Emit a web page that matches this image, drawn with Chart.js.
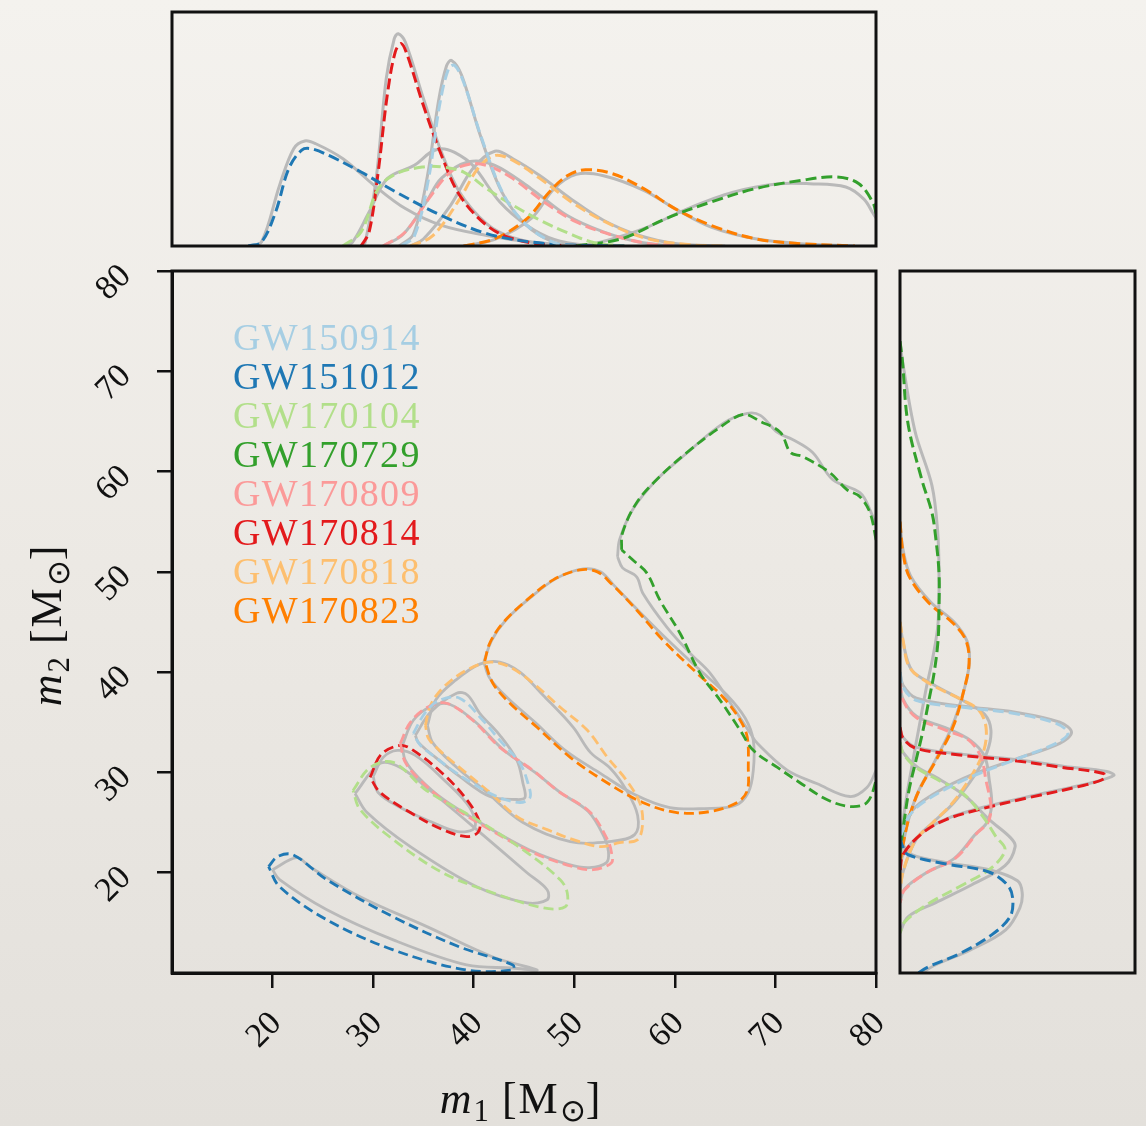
<!DOCTYPE html>
<html><head><meta charset="utf-8">
<script src="https://cdn.jsdelivr.net/npm/chart.js@4.4.1/dist/chart.umd.min.js"></script>
<style>
html,body{margin:0;padding:0;}
body{width:1146px;height:1126px;position:relative;overflow:hidden;
 background:linear-gradient(180deg,#f4f2ee 0%,#ece9e4 50%,#e3e0db 100%);
 font-family:'Liberation Serif',serif;color:#111;}
canvas{position:absolute;left:0;top:0;}
#legend{position:absolute;left:233px;top:318px;font-size:38px;line-height:39px;letter-spacing:1.3px;white-space:nowrap;}
.axt{position:absolute;font-size:44px;line-height:48px;letter-spacing:2px;text-align:center;white-space:nowrap;}
.axt sub{font-size:0.7em;vertical-align:-0.25em;line-height:0;letter-spacing:0;}
.axt i{font-style:italic;}
</style></head>
<body>
<canvas id="top" width="1146" height="1126"></canvas>
<canvas id="side" width="1146" height="1126"></canvas>
<canvas id="main" width="1146" height="1126"></canvas>
<div id="legend"></div>
<div class="axt" id="xt" style="left:321px;top:1075px;width:400px;height:48px;"><i>m</i><sub>1</sub> [M<sub>⊙</sub>]</div>
<div class="axt" id="yt" style="left:-103px;top:601px;width:300px;height:48px;transform:rotate(-90deg);"><i>m</i><sub>2</sub> [M<sub>⊙</sub>]</div>
<script>
// ---------- names, colours, ticks ----------
const eventNames = ['GW150914','GW151012','GW170104','GW170729','GW170809','GW170814','GW170818','GW170823'];
const seriesColors = ['#a6cee3','#1f78b4','#b2df8a','#33a02c','#fb9a99','#e31a1c','#fdbf6f','#ff7f00'];
const refColor = '#b9b9b9';
const m1TickValues = [20,30,40,50,60,70,80];
const m1TickLabels = ['20','30','40','50','60','70','80'];
const m2TickValues = [20,30,40,50,60,70,80];
const m2TickLabels = ['20','30','40','50','60','70','80'];

// ---------- 90% contours [m1, m2] (dashed) and reference (grey) ----------
const gw150914Contour = [[34.0,33.9],[35.2,36.0],[36.6,37.2],[38.6,37.4],[40.9,35.2],[42.6,33.2],[44.6,30.9],[45.4,28.9],[45.6,27.5],[44.6,27.0],[42.3,27.6],[39.9,28.9],[37.9,30.2],[36.6,31.2],[34.7,32.7],[34.0,33.9]];
const gw150914ContourAlt = [[34.2,33.7],[35.7,36.0],[38.3,37.9],[39.4,37.7],[40.6,35.9],[42.6,33.7],[44.3,31.2],[44.9,28.9],[45.1,27.5],[44.3,27.3],[41.6,27.6],[38.6,29.6],[36.2,31.5],[34.5,33.0],[34.2,33.7]];
const gw151012Contour = [[19.6,20.6],[20.5,21.6],[22.0,21.8],[25.4,19.3],[32.0,15.6],[38.6,12.6],[43.9,10.8],[43.9,10.3],[39.3,10.3],[32.0,12.3],[25.4,15.3],[20.7,18.6],[19.6,20.6]];
const gw151012ContourAlt = [[20.0,20.3],[22.4,21.5],[23.7,20.6],[28.7,17.6],[35.4,14.6],[41.9,11.6],[46.3,10.3],[43.9,10.5],[39.3,10.8],[32.0,13.3],[25.4,16.3],[20.7,19.3],[20.0,20.3]];
const gw170104Contour = [[28.0,28.2],[29.7,30.5],[32.0,31.0],[35.3,28.2],[40.3,25.3],[45.3,22.0],[48.6,19.3],[49.3,18.0],[49.1,16.6],[46.9,16.5],[41.9,18.0],[36.9,20.0],[32.0,23.3],[28.7,26.3],[28.0,28.2]];
const gw170104ContourAlt = [[28.2,27.9],[30.7,30.9],[32.7,30.5],[35.3,28.5],[40.3,24.3],[45.3,20.0],[47.3,18.3],[47.3,17.3],[45.3,17.0],[40.3,18.6],[33.7,22.6],[29.4,26.0],[28.2,27.9]];
const gw170729Contour = [[54.7,52.2],[54.8,53.9],[56.2,56.9],[58.5,59.5],[61.2,61.9],[64.2,64.2],[66.8,65.7],[68.5,65.0],[70.5,63.9],[71.5,61.9],[72.7,61.5],[75.4,59.9],[77.1,58.2],[78.4,57.5],[79.4,55.9],[80.0,53.2],[81.0,48.0],[81.5,40.0],[81.0,33.0],[80.0,29.2],[79.1,27.0],[77.4,26.6],[75.1,27.3],[72.4,29.0],[70.2,30.5],[67.8,32.2],[66.5,34.2],[64.5,37.2],[62.5,39.9],[60.5,43.9],[58.5,47.2],[57.2,49.9],[55.8,51.2],[54.7,52.2]];
const gw170729ContourAlt = [[54.3,51.5],[54.5,53.2],[55.8,56.2],[58.2,59.2],[60.8,61.5],[64.8,64.8],[67.2,65.8],[68.5,65.6],[70.2,63.9],[71.7,63.2],[73.7,61.9],[75.7,59.2],[78.4,57.9],[79.4,56.2],[80.4,53.2],[81.3,45.0],[81.3,37.0],[80.4,31.2],[80.0,30.2],[79.1,28.5],[77.4,27.6],[74.1,28.9],[71.2,30.2],[68.2,32.9],[67.5,33.9],[65.8,36.5],[63.5,39.9],[61.5,41.9],[59.2,44.5],[56.8,47.9],[56.2,49.5],[54.8,50.4],[54.3,51.5]];
const gw170809Contour = [[32.7,32.9],[33.7,35.0],[35.4,36.5],[37.3,36.9],[39.9,35.2],[42.6,32.5],[45.9,30.2],[48.3,28.2],[51.6,26.0],[53.3,23.3],[53.7,22.0],[53.7,21.0],[51.9,20.3],[49.9,20.6],[45.9,22.0],[41.6,24.3],[37.3,27.0],[34.7,29.2],[33.2,31.0],[32.7,32.9]];
const gw170809ContourAlt = [[32.9,32.7],[34.0,35.2],[35.8,36.6],[37.6,36.8],[40.2,35.0],[42.9,32.3],[46.1,30.0],[48.6,28.0],[51.4,26.1],[53.0,23.5],[53.4,22.1],[53.2,21.0],[51.5,20.5],[49.5,20.8],[45.5,22.3],[41.3,24.6],[37.0,27.3],[34.5,29.5],[33.2,31.2],[32.9,32.7]];
const gw170814Contour = [[29.7,29.5],[30.8,31.8],[32.7,32.7],[34.0,32.2],[36.9,29.9],[39.3,27.3],[40.6,25.0],[40.4,24.0],[39.3,23.6],[36.9,24.3],[33.7,26.0],[30.7,28.0],[29.7,29.5]];
const gw170814ContourAlt = [[30.0,29.6],[31.0,31.5],[32.4,32.2],[34.2,31.7],[37.1,29.2],[39.6,26.5],[40.1,24.5],[38.4,24.1],[35.7,25.1],[32.7,26.5],[30.5,28.0],[30.0,29.6]];
const gw170818Contour = [[35.2,34.7],[35.7,36.7],[37.0,38.5],[39.3,40.2],[41.6,41.0],[43.6,40.5],[45.9,38.9],[48.6,36.5],[51.3,34.2],[53.3,31.5],[55.2,29.2],[56.5,27.0],[56.8,25.0],[56.3,23.3],[54.5,23.0],[52.6,22.6],[49.9,23.3],[47.3,24.3],[44.3,25.6],[41.6,28.0],[39.3,29.9],[36.6,32.2],[35.5,33.4],[35.2,34.7]];
const gw170818ContourAlt = [[35.4,34.7],[36.2,37.2],[38.2,39.2],[40.6,40.8],[42.6,41.0],[44.6,40.0],[46.9,37.7],[49.9,34.5],[51.6,32.0],[53.6,30.4],[55.2,28.2],[56.3,25.7],[56.0,23.8],[53.5,23.1],[49.6,23.1],[44.9,25.0],[41.1,28.2],[38.1,30.7],[35.9,33.0],[35.4,34.7]];
const gw170823Contour = [[41.1,41.1],[41.6,42.9],[42.9,44.9],[45.3,47.2],[47.9,49.2],[50.6,50.2],[52.3,50.0],[53.6,48.9],[56.2,46.2],[58.8,43.2],[62.2,39.9],[64.8,37.5],[66.5,35.2],[67.2,33.5],[67.3,30.5],[67.2,28.2],[66.2,27.0],[63.5,26.1],[60.2,26.0],[56.8,27.0],[52.9,29.2],[49.6,31.5],[46.3,34.5],[43.6,36.9],[41.9,38.9],[41.1,41.1]];
const gw170823ContourAlt = [[41.0,41.0],[41.8,43.2],[43.2,45.2],[45.6,47.4],[48.3,49.4],[50.9,50.3],[52.6,50.0],[53.9,48.7],[56.5,46.0],[59.3,43.2],[62.5,40.2],[65.2,37.7],[67.0,35.4],[67.8,33.2],[67.8,30.2],[67.3,28.0],[66.0,26.7],[63.0,26.4],[59.5,26.5],[56.0,27.8],[52.6,29.9],[49.1,32.2],[46.1,35.0],[43.4,37.4],[41.6,39.4],[41.0,41.0]];

// ---------- m1 marginals [m1, density (relative)] ----------
const gw150914M1 = [[32.8,0],[34.1,0.043],[35.5,0.285],[36.6,0.60],[37.5,0.758],[38.1,0.772],[39.0,0.70],[40.8,0.459],[43.0,0.217],[45.3,0.088],[48.0,0.014],[50.2,0]];
const gw150914M1Alt = [[32.6,0],[34.0,0.05],[35.4,0.30],[36.5,0.62],[37.3,0.77],[37.8,0.793],[38.8,0.73],[40.6,0.48],[42.8,0.23],[45.2,0.09],[48.0,0.015],[50.2,0]];
const gw151012M1 = [[17.6,0],[18.9,0.017],[20.3,0.145],[21.6,0.33],[22.9,0.41],[23.8,0.416],[25.6,0.387],[28.8,0.316],[32.3,0.23],[36.8,0.13],[41.3,0.053],[45.7,0.017],[50.2,0.003],[55,0]];
const gw151012M1Alt = [[17.6,0],[18.9,0.017],[20.7,0.26],[22.1,0.416],[23.2,0.449],[24.3,0.437],[27.0,0.373],[30.1,0.259],[33.2,0.16],[36.8,0.088],[41.3,0.045],[45.7,0.017],[50.2,0.003],[55,0]];
const gw170104M1 = [[27.0,0],[28.8,0.06],[30.5,0.245],[32.3,0.309],[35.0,0.338],[36.8,0.338],[39.0,0.316],[41.3,0.245],[43.9,0.174],[46.6,0.11],[49.3,0.057],[52.0,0.014],[55,0]];
const gw170104M1Alt = [[27.0,0],[27.9,0.014],[29.6,0.145],[31.4,0.288],[34.1,0.345],[35.7,0.40],[36.8,0.416],[38.1,0.40],[39.9,0.345],[42.6,0.188],[45.3,0.088],[48.0,0.028],[51.1,0.003],[54,0]];
const gw170729M1 = [[50.2,0],[54.7,0.031],[59.1,0.117],[63.6,0.188],[68.0,0.245],[72.5,0.28],[76.1,0.295],[78.3,0.266],[79.7,0.185],[80.0,0.14]];
const gw170729M1Alt = [[50.2,0],[52.4,0.014],[56.9,0.074],[61.3,0.16],[65.8,0.23],[70.3,0.266],[73.4,0.266],[77.0,0.252],[78.8,0.20],[79.7,0.14],[80.0,0.12]];
const gw170809M1 = [[31.0,0],[33.2,0.06],[35.5,0.20],[37.7,0.316],[39.9,0.352],[41.7,0.338],[43.9,0.288],[47.1,0.185],[50.2,0.103],[53.8,0.046],[57.3,0.011],[60,0]];
const gw170809M1Alt = [[31.0,0],[33.0,0.05],[35.3,0.19],[36.8,0.29],[39.5,0.36],[42.1,0.345],[45.7,0.245],[49.3,0.13],[52.9,0.06],[56.4,0.017],[60,0]];
const gw170814M1 = [[28.8,0],[29.6,0.06],[30.5,0.316],[31.4,0.644],[32.2,0.83],[32.8,0.865],[33.4,0.815],[35.0,0.60],[36.8,0.387],[38.6,0.217],[41.3,0.088],[43.9,0.031],[48.0,0.003],[52,0]];
const gw170814M1Alt = [[28.8,0],[29.2,0.014],[30.3,0.288],[31.3,0.715],[32.1,0.886],[32.5,0.907],[33.2,0.872],[35.0,0.63],[36.8,0.40],[38.6,0.23],[41.3,0.095],[43.9,0.036],[48.0,0.003],[52,0]];
const gw170818M1 = [[33.7,0],[35.9,0.043],[38.6,0.20],[40.4,0.33],[42.1,0.387],[43.9,0.366],[46.6,0.288],[50.2,0.174],[53.8,0.088],[57.3,0.031],[61.3,0.006],[65,0]];
const gw170818M1Alt = [[33.7,0],[35.0,0.03],[37.7,0.174],[39.9,0.33],[42.1,0.405],[43.9,0.373],[46.6,0.30],[49.7,0.20],[52.9,0.11],[56.4,0.046],[60.0,0.011],[65,0]];
const gw170823M1 = [[39.0,0],[42.1,0.031],[45.3,0.117],[47.5,0.23],[49.3,0.30],[51.1,0.326],[53.8,0.309],[56.9,0.245],[60.0,0.16],[63.6,0.088],[68.0,0.031],[72.5,0.01],[77.9,0]];
const gw170823M1Alt = [[39.0,0],[42.1,0.028],[45.7,0.117],[48.0,0.245],[50.2,0.306],[52.9,0.30],[56.9,0.238],[60.0,0.16],[63.6,0.081],[68.0,0.031],[72.5,0.01],[77.9,0]];

// ---------- m2 marginals [density (relative), m2] ----------
const gw150914M2 = [[0,40],[0.013,38.5],[0.068,37.2],[0.268,36.5],[0.481,35.9],[0.664,34.9],[0.715,33.9],[0.664,32.9],[0.481,31.2],[0.268,29.2],[0.098,27.0],[0.038,25.6],[0,23.5]];
const gw150914M2Alt = [[0,40],[0.013,38.7],[0.07,37.4],[0.27,36.6],[0.49,36.0],[0.68,35.0],[0.73,34.0],[0.68,32.9],[0.49,31.3],[0.27,29.4],[0.1,27.2],[0.04,25.8],[0,23.5]];
const gw151012M2 = [[0,23.5],[0.01,22.7],[0.034,21.8],[0.19,20.9],[0.375,20.1],[0.46,18.7],[0.48,17.3],[0.468,15.6],[0.39,13.8],[0.26,12.0],[0.12,10.6],[0.064,9.8]];
const gw151012M2Alt = [[0,23.5],[0.01,22.9],[0.05,21.8],[0.2,21.0],[0.38,20.3],[0.5,19.2],[0.52,18.0],[0.51,16.5],[0.45,14.3],[0.3,12.3],[0.15,10.8],[0.08,9.8]];
const gw170104M2 = [[0,33],[0.013,31.9],[0.068,30.5],[0.166,29.2],[0.268,27.9],[0.353,25.6],[0.408,23.6],[0.447,22.3],[0.39,20.5],[0.26,18.7],[0.12,16.9],[0.02,15.1],[0,14]];
const gw170104M2Alt = [[0,33],[0.013,32.0],[0.07,30.6],[0.17,29.3],[0.28,27.6],[0.38,25.3],[0.47,23.5],[0.49,22.6],[0.447,20.7],[0.306,18.8],[0.15,17.0],[0.034,15.6],[0,14]];
const gw170729M2 = [[0,73],[0.01,71.1],[0.034,64.8],[0.094,59.1],[0.136,55.9],[0.153,53.2],[0.166,49.9],[0.166,46.5],[0.162,43.2],[0.145,39.9],[0.123,37.2],[0.098,34.2],[0.068,31.2],[0.038,28.2],[0.017,25.0],[0,22]];
const gw170729M2Alt = [[0,73],[0.01,71.1],[0.064,64.0],[0.136,58.6],[0.16,54.1],[0.166,49.9],[0.162,44.9],[0.14,41.5],[0.11,38.2],[0.081,34.5],[0.055,31.2],[0.026,27.3],[0,23]];
const gw170809M2 = [[0,39],[0.013,37.2],[0.068,35.5],[0.196,34.2],[0.294,33.2],[0.345,31.5],[0.366,29.2],[0.387,26.6],[0.374,25.0],[0.33,24.0],[0.234,21.4],[0.12,20.1],[0.02,18.3],[0,17]];
const gw170809M2Alt = [[0,39],[0.013,37.3],[0.07,35.6],[0.2,34.4],[0.3,33.2],[0.36,31.6],[0.38,29.2],[0.39,26.8],[0.37,25.0],[0.32,23.8],[0.23,21.4],[0.12,20.1],[0.02,18.4],[0,17]];
const gw170814M2 = [[0,34.5],[0.013,33.4],[0.068,32.4],[0.268,31.7],[0.48,31.2],[0.69,30.5],[0.865,29.9],[0.87,29.4],[0.78,28.7],[0.55,27.5],[0.336,26.3],[0.196,25.3],[0.098,24.0],[0.013,21.8],[0,20]];
const gw170814M2Alt = [[0,34.5],[0.013,33.5],[0.07,32.5],[0.27,31.8],[0.49,31.3],[0.7,30.6],[0.88,30.1],[0.91,29.7],[0.82,29.0],[0.57,27.7],[0.35,26.5],[0.2,25.4],[0.1,24.1],[0.015,21.9],[0,20]];
const gw170818M2 = [[0,45],[0.013,43.2],[0.04,40.5],[0.123,38.9],[0.268,37.2],[0.336,36.2],[0.366,34.5],[0.357,32.2],[0.31,29.9],[0.225,27.0],[0.14,25.0],[0.068,23.3],[0.013,20.1],[0,18]];
const gw170818M2Alt = [[0,45],[0.013,43.0],[0.05,40.2],[0.14,38.8],[0.28,37.0],[0.36,35.8],[0.387,34.2],[0.37,32.0],[0.32,29.8],[0.23,27.0],[0.14,25.0],[0.068,23.3],[0.013,20.1],[0,18]];
const gw170823M2 = [[0,55],[0.013,51.9],[0.04,49.5],[0.123,46.9],[0.225,44.9],[0.28,43.2],[0.294,40.9],[0.272,38.2],[0.225,34.5],[0.153,31.2],[0.081,28.2],[0.04,25.6],[0.017,23.3],[0,21]];
const gw170823M2Alt = [[0,55],[0.013,52.2],[0.045,49.6],[0.13,47.0],[0.23,45.0],[0.285,43.1],[0.295,40.9],[0.27,38.0],[0.22,34.5],[0.15,31.2],[0.08,28.2],[0.04,25.6],[0.017,23.3],[0,21]];

// ---------- assembly ----------
const contours = [gw150914Contour,gw151012Contour,gw170104Contour,gw170729Contour,gw170809Contour,gw170814Contour,gw170818Contour,gw170823Contour];
const contoursAlt = [gw150914ContourAlt,gw151012ContourAlt,gw170104ContourAlt,gw170729ContourAlt,gw170809ContourAlt,gw170814ContourAlt,gw170818ContourAlt,gw170823ContourAlt];
const m1Marg = [gw150914M1,gw151012M1,gw170104M1,gw170729M1,gw170809M1,gw170814M1,gw170818M1,gw170823M1];
const m1MargAlt = [gw150914M1Alt,gw151012M1Alt,gw170104M1Alt,gw170729M1Alt,gw170809M1Alt,gw170814M1Alt,gw170818M1Alt,gw170823M1Alt];
const m2Marg = [gw150914M2,gw151012M2,gw170104M2,gw170729M2,gw170809M2,gw170814M2,gw170818M2,gw170823M2];
const m2MargAlt = [gw150914M2Alt,gw151012M2Alt,gw170104M2Alt,gw170729M2Alt,gw170809M2Alt,gw170814M2Alt,gw170818M2Alt,gw170823M2Alt];

const FONT = "'Liberation Serif', 'DejaVu Serif', serif";

function mk(data, color, dash, width, label){
  return {label, data: data.map(p=>({x:p[0], y:p[1]})), borderColor: color, backgroundColor: color,
    borderWidth: width, borderDash: dash, showLine: true, pointRadius: 0,
    pointHoverRadius: 0, tension: 0.35, fill: false};
}
function buildSets(dashedArr, altArr, width, dash){
  const out = [];
  // datasets with lower index are drawn on top -> dashed first
  dashedArr.forEach((d,i)=>out.push(mk(d, seriesColors[i], dash, width, eventNames[i])));
  altArr.forEach((d,i)=>out.push(mk(d, refColor, [], width, eventNames[i]+' (ref)')));
  return out;
}
const framePlugin = {id:'frame', afterDraw(chart){
  const {ctx, chartArea:a} = chart; ctx.save(); ctx.strokeStyle='#111'; ctx.lineWidth=3;
  ctx.strokeRect(a.left, a.top, a.right-a.left, a.bottom-a.top); ctx.restore(); }};

const common = {responsive:false, animation:false, devicePixelRatio:1,
  plugins:{legend:{display:false}, tooltip:{enabled:false}}, events:[]};

// top marginal
new Chart(document.getElementById('top'), {type:'scatter',
  data:{datasets: buildSets(m1Marg, m1MargAlt, 3, [11,5])},
  options:Object.assign({}, common, {layout:{padding:{left:172, top:12, right:270, bottom:880}},
    scales:{x:{type:'linear', min:10, max:80, display:false}, y:{type:'linear', min:0, max:1, display:false}}}),
  plugins:[framePlugin]});

// right marginal
new Chart(document.getElementById('side'), {type:'scatter',
  data:{datasets: buildSets(m2Marg, m2MargAlt, 3, [11,5])},
  options:Object.assign({}, common, {layout:{padding:{left:900, top:271, right:11, bottom:153}},
    scales:{x:{type:'linear', min:0, max:1, display:false}, y:{type:'linear', min:10, max:80, display:false}}}),
  plugins:[framePlugin]});

// main joint plot
function axisCfg(vals, labels, isX){
  return {type:'linear', min:10, max:80,
    afterBuildTicks: s => { s.ticks = vals.map(v=>({value:v})); },
    afterFit: s => { if (isX) s.height = 153; else s.width = 172; },
    ticks:{font:{family:FONT, size:34}, color:'#111', minRotation:45, maxRotation:45,
      padding: isX ? 16 : 31, labelOffset: isX ? 4 : 0,
      callback: (v)=>{ const i = vals.indexOf(v); return i>=0 ? labels[i] : ''; }},
    grid:{drawOnChartArea:false, drawTicks:true, tickLength:15, color:'#111', lineWidth:2.5},
    border:{display:true, color:'#111', width:3}};
}
new Chart(document.getElementById('main'), {type:'scatter',
  data:{datasets: buildSets(contours, contoursAlt, 2.8, [10,5])},
  options:Object.assign({}, common, {layout:{padding:{left:0, top:271, right:270, bottom:0}},
    scales:{x:axisCfg(m1TickValues, m1TickLabels, true), y:axisCfg(m2TickValues, m2TickLabels, false)}}),
  plugins:[framePlugin]});

// legend (text only, coloured)
const lg = document.getElementById('legend');
eventNames.forEach((n,i)=>{ const d=document.createElement('div'); d.textContent=n; d.style.color=seriesColors[i]; lg.appendChild(d); });
</script>
</body></html>
